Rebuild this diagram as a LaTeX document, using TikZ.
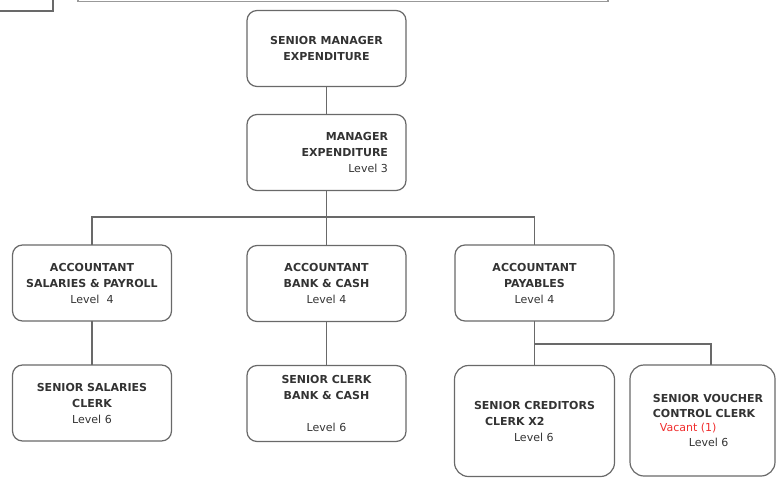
\documentclass[tikz,border=0pt]{standalone}
\usepackage{fontspec}
\setmainfont{DejaVu Sans}
\usepackage{xcolor}
\usetikzlibrary{positioning}
\definecolor{boxline}{RGB}{105,105,105}
\definecolor{vacred}{RGB}{240,45,45}

\begin{document}
\begin{tikzpicture}[
x = 1pt, y = -1pt,
orgbox/.style={rectangle, align = center,
draw = boxline, line width = 1.2pt, text = black!80,
font = \fontsize{11}{16}\selectfont\bfseries,
inner sep = 0pt, outer sep = 0pt, minimum width = 159pt, minimum height = 76pt, rounded corners = 10pt},
tallbox/.style={orgbox, align = left, minimum height = 111pt, rounded corners = 14pt},
orgline/.style={draw = boxline, line width = 1.2pt},
node distance = 28pt]

\useasboundingbox (0,0) rectangle (779,479);
\clip (0,0) rectangle (779,479);

% edges of the boxes above the page
\draw[orgline] (-5,11) -- (53,11) -- (53,-5);
\draw[orgline, draw = gray!80, line width = 1.6pt] (78,-5) |- (608,1.5) -- (608,-5);

\node[orgbox] (sm) at (326.5,48.5) {SENIOR MANAGER\\EXPENDITURE};
\node[orgbox, below = of sm, align = right, text width = 123pt] (mgr) {MANAGER\\EXPENDITURE\\{\mdseries Level 3}};

\node[orgbox, below = 55pt of mgr] (acb) {ACCOUNTANT\\BANK \& CASH\\{\mdseries Level 4}};
\node[orgbox] (acs) at (92,283) {ACCOUNTANT\\SALARIES \& PAYROLL\\{\mdseries Level\ \ 4}};
\node[orgbox] (acp) at (534.5,283) {ACCOUNTANT\\PAYABLES\\{\mdseries Level 4}};

\node[orgbox, below = 44pt of acs] (ssc) {SENIOR\ SALARIES\\CLERK\\{\mdseries Level 6}};
\node[orgbox, below = 44pt of acb] (scb) {SENIOR CLERK\\BANK \& CASH\\[16pt]{\mdseries Level 6}};
\node[tallbox, minimum width = 160pt] (scc) at (534.5,421) {SENIOR CREDITORS\\\hspace*{11pt}CLERK X2\\\hspace*{40pt}{\mdseries Level 6}};
\node[tallbox, minimum width = 145pt, font = \fontsize{11}{14.7}\selectfont\bfseries] (svc) at (702.5,420.5)
{\hspace*{11pt}SENIOR VOUCHER\\\hspace*{11pt}CONTROL CLERK\\\hspace*{18pt}{\mdseries\color{vacred}Vacant (1)}\\\hspace*{47pt}{\mdseries Level 6}};

% reporting lines
\coordinate (bus1) at (mgr.south |- 0,217);
\coordinate (bus2) at (acp.south |- 0,344);
\draw[orgline] (sm) -- (mgr);
\draw[orgline] (mgr) -- (bus1) -| (acs);
\draw[orgline] (bus1) -| (acp);
\draw[orgline] (bus1) -- (acb);
\draw[orgline] (acs) -- (ssc);
\draw[orgline] (acb) -- (scb);
\draw[orgline] (acp) -- (scc);
\draw[orgline] (bus2) -| ([xshift = 8.5pt]svc.north);

\end{tikzpicture}
\end{document}
